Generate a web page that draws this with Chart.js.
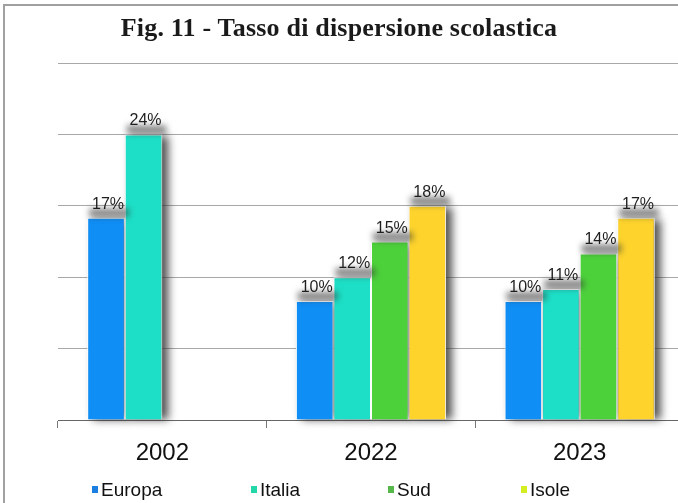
<!DOCTYPE html>
<html>
<head>
<meta charset="utf-8">
<script src="https://cdn.jsdelivr.net/npm/chart.js@4/dist/chart.umd.min.js"></script>
<style>
  html, body { margin: 0; padding: 0; background: #fff; }
  body { width: 678px; height: 503px; overflow: hidden; position: relative; }
  #frame { position: absolute; left: 3px; top: 4px; width: 700px; height: 520px;
           border-left: 2px solid #a0a0a0; border-top: 2px solid #a0a0a0; }
  #title { position: absolute; left: 0; top: 13px; width: 678px; text-align: center;
           font: bold 26px "Liberation Serif", serif; color: #1a1a1a; letter-spacing: 0.2px; }
  #wrap { position: absolute; left: 0; top: 0; width: 678px; height: 503px; overflow: hidden; }
  #legend { position: absolute; left: 0; top: 479px; width: 678px; height: 24px; }
  .item { position: absolute; top: 0; font: 19px "Liberation Sans", Arial, sans-serif; color: #111; }
  .item i { display: inline-block; width: 6px; height: 7px; margin-right: 3px; vertical-align: 3px; }
</style>
</head>
<body>
<div id="frame"></div>
<div id="wrap"><canvas id="chart" width="684" height="503"></canvas></div>
<div id="title">Fig. 11 - Tasso di dispersione scolastica</div>
<div id="legend"></div>
<script>
const years = ["2002", "2022", "2023"]
const seriesNames = ["Europa", "Italia", "Sud", "Isole"]
const europa = [17, 10, 10]
const italia = [24, 12, 11]
const sud = [null, 15, 14]
const isole = [null, 18, 17]
const yTicks = [0, 6, 12, 18, 24, 30]

const barColors = ["#0f8ef6", "#1ddfc7", "#4dd13b", "#fdd32c"]
const legendColors = ["#1a7fe0", "#22d8a8", "#56b84a", "#d4ee22"]
const legendLeft = [92, 251, 388, 521]

const values = [europa, italia, sud, isole]

const shadowPlugin = {
  id: "barShadow",
  beforeDatasetsDraw(chart) {
    // blurred drop shadow to the right of every bar
    const ctx = chart.ctx
    ctx.save()
    ctx.filter = "blur(4px)"
    ctx.fillStyle = "rgba(40,40,40,0.8)"
    chart.data.datasets.forEach((ds, i) => {
      chart.getDatasetMeta(i).data.forEach((bar, j) => {
        if (ds.data[j] === null) return
        ctx.fillRect(bar.x - bar.width / 2 + 6, bar.y + 2, bar.width, bar.base - bar.y - 2)
      })
    })
    ctx.restore()
  },
  afterDatasetsDraw(chart) {
    const ctx = chart.ctx
    ctx.save()
    ctx.font = "16px 'Liberation Sans', Arial, sans-serif"
    ctx.textAlign = "center"
    ctx.textBaseline = "alphabetic"
    chart.data.datasets.forEach((ds, i) => {
      chart.getDatasetMeta(i).data.forEach((bar, j) => {
        const v = ds.data[j]
        if (v === null) return
        // dark smudge between label and bar top
        ctx.save()
        ctx.filter = "blur(3px)"
        ctx.fillStyle = "rgba(50,50,50,0.6)"
        ctx.fillRect(bar.x - bar.width / 2 + 2, bar.y - 9, bar.width + 2, 8)
        ctx.restore()
        ctx.fillStyle = "#1e1e1e"
        ctx.fillText(v + "%", bar.x + 2, bar.y - 9)
      })
    })
    ctx.restore()
  }
}

new Chart(document.getElementById("chart"), {
  type: "bar",
  data: {
    labels: years,
    datasets: seriesNames.map((name, i) => ({
      label: name,
      data: values[i],
      backgroundColor: barColors[i],
      borderColor: "#ffffff",
      borderWidth: 1,
      borderSkipped: "bottom",
      barPercentage: 1,
      categoryPercentage: 0.72
    }))
  },
  options: {
    responsive: false,
    animation: false,
    events: [],
    layout: { padding: { top: 63, left: 58, right: 0, bottom: 0 } },
    plugins: { legend: { display: false }, tooltip: { enabled: false } },
    scales: {
      x: {
        offset: true,
        grid: { display: true, offset: true, drawOnChartArea: false, tickLength: 8, color: "#777", lineWidth: 1 },
        border: { color: "#666", width: 1 },
        ticks: { font: { family: "'Liberation Sans', Arial, sans-serif", size: 24 }, color: "#111", padding: 11 },
        afterFit(scale) { scale.height = 83 }
      },
      y: {
        min: yTicks[0],
        max: yTicks[yTicks.length - 1],
        afterBuildTicks(scale) { scale.ticks = yTicks.map(v => ({ value: v })) },
        ticks: { display: false },
        grid: { color: "#a8a8a8", lineWidth: 1, drawTicks: false },
        border: { display: false },
        afterFit(scale) { scale.width = 0 }
      }
    }
  },
  plugins: [shadowPlugin]
})

const legend = document.getElementById("legend")
seriesNames.forEach((name, i) => {
  const el = document.createElement("div")
  el.className = "item"
  el.style.left = legendLeft[i] + "px"
  el.innerHTML = `<i style="background:${legendColors[i]}"></i>${name}`
  legend.appendChild(el)
})
</script>
</body>
</html>
